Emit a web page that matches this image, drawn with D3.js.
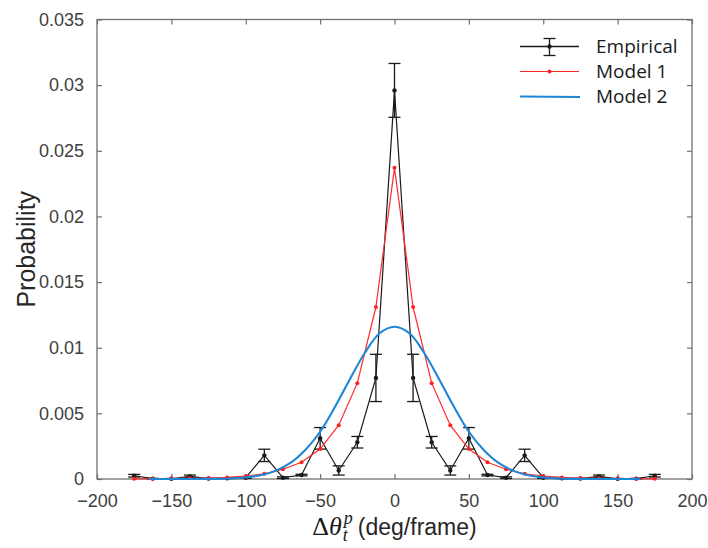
<!DOCTYPE html>
<html>
<head>
<meta charset="utf-8">
<script src="https://cdn.jsdelivr.net/npm/d3@7"></script>
<style>
  body { margin: 0; background: #fff; overflow: hidden; }
  svg { display: block; }
  .tick text { font-family: "Liberation Sans", Arial, sans-serif; font-size: 18px; fill: #404040; }
</style>
</head>
<body>
<div id="viz"></div>
<script>
const width = 708;
const height = 548;

// bin centres (deg/frame)
const bins = [-175, -162.5, -150, -137.5, -125, -112.5, -100, -87.5, -75, -62.5, -50, -37.5, -25, -12.5,
    0, 12.5, 25, 37.5, 50, 62.5, 75, 87.5, 100, 112.5, 125, 137.5, 150, 162.5, 175];

// empirical probability + error (half length of bar)
const empirical = [0.00025, 0.00003, 0.00002, 0.0002, 0.00003, 0.00005, 0.0001, 0.0018, 0.0001, 0.0003, 0.0031, 0.00065, 0.0028, 0.0077,
    0.0296, 0.0077, 0.0028, 0.00065, 0.0031, 0.0003, 0.0001, 0.0018, 0.0001, 0.00005, 0.00003, 0.0002, 0.00002, 0.00003, 0.00025];
const empiricalErr = [0.0001, 0.00002, 0.00002, 0.0001, 0.00002, 0.00002, 0.00005, 0.00047, 0.00006, 0.00006, 0.00082, 0.00035, 0.00044, 0.0018,
    0.00205, 0.0018, 0.00044, 0.00035, 0.00082, 0.00006, 0.00006, 0.00047, 0.00005, 0.00002, 0.00002, 0.0001, 0.00002, 0.00002, 0.0001];

// model 1 (red, one value per bin)
const model1 = [0.00001, 0.00002, 0.00003, 0.00005, 0.00007, 0.00012, 0.00023, 0.0004, 0.00074, 0.00127, 0.00228, 0.0041, 0.0073, 0.0131,
    0.0237, 0.0131, 0.0073, 0.0041, 0.00228, 0.00127, 0.00074, 0.0004, 0.00023, 0.00012, 0.00007, 0.00005, 0.00003, 0.00002, 0.00001];

// model 2 (blue, smooth curve)
const model2X = [-165, -150, -135, -120, -110, -100, -90, -80, -70, -60, -50, -40, -30, -20, -10,
    0, 10, 20, 30, 40, 50, 60, 70, 80, 90, 100, 110, 120, 135, 150, 165];
const model2 = [0, 0, 0.000002, 0.00001, 0.00004, 0.00012, 0.00028, 0.00062, 0.00122, 0.00221, 0.0036, 0.0055, 0.0076, 0.0096, 0.0111,
    0.0116, 0.0111, 0.0096, 0.0076, 0.0055, 0.0036, 0.00221, 0.00122, 0.00062, 0.00028, 0.00012, 0.00004, 0.00001, 0.000002, 0, 0];

const xTicks = [-200, -150, -100, -50, 0, 50, 100, 150, 200];
const yTicks = [0, 0.005, 0.01, 0.015, 0.02, 0.025, 0.03, 0.035];
const yTickLabels = ["0", "0.005", "0.01", "0.015", "0.02", "0.025", "0.03", "0.035"];

const legendLabels = ["Empirical", "Model 1", "Model 2"];

const svg = d3.select("#viz")
    .append("svg")
    .attr("width", width)
    .attr("height", height)
    .attr("viewBox", `0 0 ${width} ${height}`);

const margin = {top: 19.5, right: 16, left: 97, bottom: 69};
const innerWidth = width - margin.left - margin.right;
const innerHeight = height - margin.top - margin.bottom;

const xScale = d3.scaleLinear()
    .domain([-200, 200])
    .range([0, innerWidth]);

const yScale = d3.scaleLinear()
    .domain([0, 0.035])
    .range([innerHeight, 0]);

const g = svg.append("g")
    .attr("transform", `translate(${margin.left}, ${margin.top})`);

const axisColor = "#707070";

// axes, ticks pointing inward
const xAxis = d3.axisBottom(xScale)
    .tickValues(xTicks)
    .tickFormat(d3.format("d"))
    .tickSize(-5)
    .tickPadding(15);
const yAxis = d3.axisLeft(yScale)
    .tickValues(yTicks)
    .tickFormat((d, i) => yTickLabels[i])
    .tickSize(-5)
    .tickPadding(13);

const xAxisG = g.append("g")
    .attr("transform", `translate(0, ${innerHeight})`)
    .call(xAxis);
const yAxisG = g.append("g").call(yAxis);

// top + right ticks (no labels)
const xTop = g.append("g").call(d3.axisTop(xScale).tickValues(xTicks).tickSize(-5).tickFormat(""));
const yRight = g.append("g")
    .attr("transform", `translate(${innerWidth}, 0)`)
    .call(d3.axisRight(yScale).tickValues(yTicks).tickSize(-5).tickFormat(""));
xTop.selectAll(".tick text").remove();
yRight.selectAll(".tick text").remove();

[xAxisG, yAxisG, xTop, yRight].forEach(a => {
    a.selectAll(".domain").remove();
    a.selectAll(".tick line").attr("stroke", axisColor).attr("stroke-width", 1.2);
});
g.append("rect")
    .attr("width", innerWidth)
    .attr("height", innerHeight)
    .attr("fill", "none")
    .attr("stroke", axisColor)
    .attr("stroke-width", 1.3);

// model 2 line
const blueLine = d3.line()
    .x((d, i) => xScale(model2X[i]))
    .y(d => yScale(d))
    .curve(d3.curveCatmullRom);

// model 1 / empirical line
const binLine = d3.line()
    .x((d, i) => xScale(bins[i]))
    .y(d => yScale(d));

// empirical
g.append("path")
    .attr("d", binLine(empirical))
    .attr("fill", "none")
    .attr("stroke", "#1a1a1a")
    .attr("stroke-width", 1.2);

const capW = 6;
const errG = g.append("g").attr("stroke", "#1a1a1a").attr("stroke-width", 1.3);
bins.forEach((b, i) => {
    const x = xScale(b);
    const y0 = yScale(Math.max(0, empirical[i] - empiricalErr[i]));
    const y1 = yScale(empirical[i] + empiricalErr[i]);
    errG.append("line").attr("x1", x).attr("x2", x).attr("y1", y0).attr("y2", y1);
    errG.append("line").attr("x1", x - capW).attr("x2", x + capW).attr("y1", y0).attr("y2", y0);
    errG.append("line").attr("x1", x - capW).attr("x2", x + capW).attr("y1", y1).attr("y2", y1);
});
g.selectAll("circle.emp").data(empirical)
    .enter().append("circle")
        .attr("class", "emp")
        .attr("cx", (d, i) => xScale(bins[i]))
        .attr("cy", d => yScale(d))
        .attr("r", 2.2)
        .attr("fill", "#1a1a1a");

g.append("path")
    .attr("d", binLine(model1))
    .attr("fill", "none")
    .attr("stroke", "#ff2a2a")
    .attr("stroke-width", 1.2);
g.selectAll("circle.m1").data(model1)
    .enter().append("circle")
        .attr("class", "m1")
        .attr("cx", (d, i) => xScale(bins[i]))
        .attr("cy", d => yScale(d))
        .attr("r", 2)
        .attr("fill", "#ff2020");

g.append("path")
    .attr("d", blueLine(model2))
    .attr("fill", "none")
    .attr("stroke", "#1e86d6")
    .attr("stroke-width", 2.1);

// y label
svg.append("text")
    .attr("transform", `translate(35, ${margin.top + innerHeight / 2}) rotate(-90)`)
    .attr("text-anchor", "middle")
    .attr("font-family", "Liberation Sans, Arial, sans-serif")
    .attr("font-size", 25)
    .attr("fill", "#262626")
    .text("Probability");

// x label: Δθ_t^p (deg/frame)
const xl = svg.append("g");
const part1 = xl.append("text")
    .attr("x", 0).attr("y", 535)
    .attr("font-family", "Liberation Serif, Times New Roman, serif")
    .attr("font-size", 26)
    .attr("fill", "#1a1a1a");
part1.append("tspan").text("Δ");
part1.append("tspan").attr("font-style", "italic").text("θ");
const w1 = part1.node().getComputedTextLength();
xl.append("text")
    .attr("x", w1 + 2).attr("y", 524)
    .attr("font-family", "Liberation Serif, Times New Roman, serif")
    .attr("font-style", "italic")
    .attr("font-size", 18)
    .attr("fill", "#1a1a1a")
    .text("p");
xl.append("text")
    .attr("x", w1 + 1).attr("y", 541)
    .attr("font-family", "Liberation Serif, Times New Roman, serif")
    .attr("font-style", "italic")
    .attr("font-size", 18)
    .attr("fill", "#1a1a1a")
    .text("t");
const part2 = xl.append("text")
    .attr("x", w1 + 16).attr("y", 535)
    .attr("font-family", "Liberation Sans, Arial, sans-serif")
    .attr("font-size", 23)
    .attr("fill", "#262626")
    .text("(deg/frame)");
const totalW = w1 + 16 + part2.node().getComputedTextLength();
xl.attr("transform", `translate(${margin.left + xScale(0) - totalW / 2}, 0)`);

// legend
const legend = svg.append("g");
const legY = [46.5, 71.5, 96.5];
const lx0 = 520, lx1 = 579, lxc = 549.5;
legend.append("line").attr("x1", lx0).attr("x2", lx1).attr("y1", legY[0]).attr("y2", legY[0])
    .attr("stroke", "#1a1a1a").attr("stroke-width", 1.3);
legend.append("line").attr("x1", lxc).attr("x2", lxc).attr("y1", legY[0] - 8).attr("y2", legY[0] + 9)
    .attr("stroke", "#1a1a1a").attr("stroke-width", 1.3);
[legY[0] - 8, legY[0] + 9].forEach(y => legend.append("line")
    .attr("x1", lxc - 6).attr("x2", lxc + 6).attr("y1", y).attr("y2", y)
    .attr("stroke", "#1a1a1a").attr("stroke-width", 1.3));
legend.append("circle").attr("cx", lxc).attr("cy", legY[0]).attr("r", 2.2).attr("fill", "#1a1a1a");
legend.append("line").attr("x1", lx0).attr("x2", lx1).attr("y1", legY[1]).attr("y2", legY[1])
    .attr("stroke", "#ff2a2a").attr("stroke-width", 1.2);
legend.append("circle").attr("cx", lxc).attr("cy", legY[1]).attr("r", 2).attr("fill", "#ff2020");
legend.append("line").attr("x1", lx0).attr("x2", lx1 + 1).attr("y1", legY[2]).attr("y2", legY[2] + 0.5)
    .attr("stroke", "#1e86d6").attr("stroke-width", 2.1);
legend.selectAll("text.leg").data(legendLabels)
    .enter().append("text")
        .attr("class", "leg")
        .attr("x", 596)
        .attr("y", (d, i) => legY[i] + 6.5)
        .attr("font-family", "Open Sans, Noto Sans, sans-serif")
        .attr("font-size", 19)
        .attr("fill", "#1a1a1a")
        .text(d => d);
</script>
</body>
</html>
